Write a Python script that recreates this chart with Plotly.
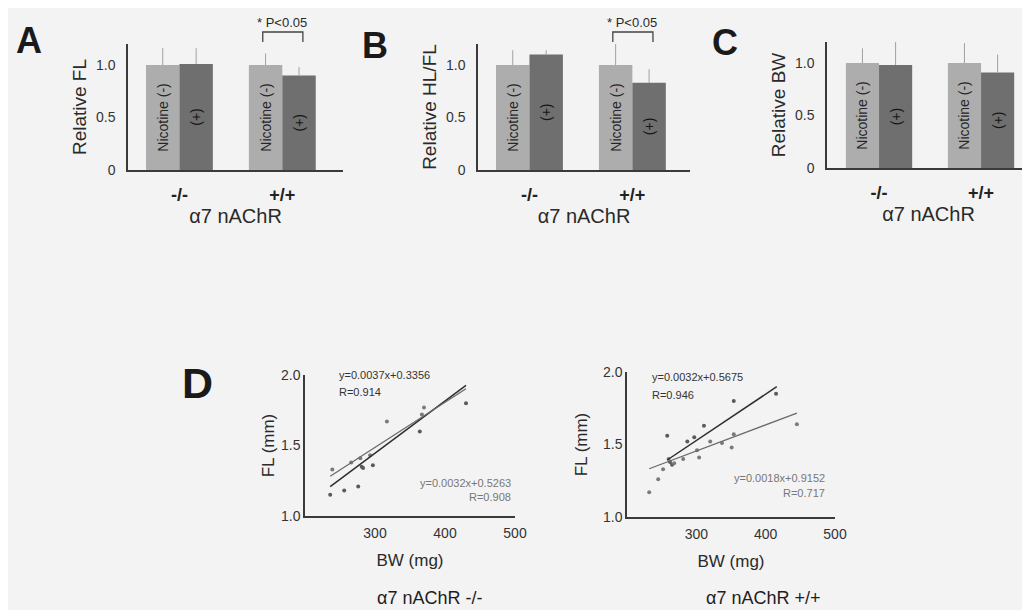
import plotly.graph_objects as go

# ---------------- data ----------------
genotypes = ["-/-", "+/+"]
nic_neg_label = "Nicotine (-)"
nic_pos_label = "(+)"

fl_neg = [1.00, 1.00]
fl_pos = [1.01, 0.90]
fl_neg_err = [0.16, 0.11]
fl_pos_err = [0.15, 0.08]

hlfl_neg = [1.00, 1.00]
hlfl_pos = [1.10, 0.83]
hlfl_neg_err = [0.14, 0.22]
hlfl_pos_err = [0.04, 0.13]

bw_neg = [1.00, 1.00]
bw_pos = [0.98, 0.91]
bw_neg_err = [0.14, 0.19]
bw_pos_err = [0.22, 0.17]

# scatter, alpha7 -/-
ko_a_bw = [236, 256, 276, 283, 297, 364, 430, 281]
ko_a_fl = [1.15, 1.18, 1.21, 1.34, 1.36, 1.60, 1.80, 1.35]
ko_b_bw = [239, 266, 279, 293, 317, 367, 370]
ko_b_fl = [1.33, 1.38, 1.41, 1.43, 1.67, 1.72, 1.77]
ko_fit_a = (0.0037, 0.3356, 0.914)
ko_fit_b = (0.0032, 0.5263, 0.908)
ko_fit_x = [236, 430]

# scatter, alpha7 +/+
wt_a_bw = [258, 262, 265, 287, 297, 311, 354, 415]
wt_a_fl = [1.56, 1.38, 1.36, 1.52, 1.55, 1.63, 1.80, 1.85]
wt_b_bw = [232, 245, 252, 260, 268, 281, 301, 304, 320, 337, 351, 354, 445]
wt_b_fl = [1.17, 1.26, 1.33, 1.40, 1.37, 1.40, 1.46, 1.41, 1.52, 1.51, 1.48, 1.57, 1.64]
wt_fit_a = (0.0032, 0.5675, 0.946)
wt_fit_b = (0.0018, 0.9152, 0.717)
wt_fit_a_x = [258, 416]
wt_fit_b_x = [232, 445]

y_ticks_bar = [0, 0.5, 1.0]
y_ticktext_bar = ["0", "0.5", "1.0"]
x_ticks_sc = [300, 400, 500]
y_ticks_sc = [1.0, 1.5, 2.0]

# ---------------- style ----------------
FONT = "Liberation Sans, Arial, sans-serif"
BG = "#f3f3f3"
LIGHT = "#adadad"
DARK = "#6f6f6f"
AX = "#3a3a3a"

fig = go.Figure()

bar_panels = [
    ("x", "y", fl_neg, fl_pos, fl_neg_err, fl_pos_err),
    ("x2", "y2", hlfl_neg, hlfl_pos, hlfl_neg_err, hlfl_pos_err),
    ("x3", "y3", bw_neg, bw_pos, bw_neg_err, bw_pos_err),
]
for xa, ya, neg, pos, nerr, perr in bar_panels:
    fig.add_trace(go.Bar(
        x=genotypes, y=neg, xaxis=xa, yaxis=ya, marker_color=LIGHT,
        marker_line_width=0,
        text=[nic_neg_label] * len(neg), textposition="inside",
        textangle=-90, insidetextanchor="middle", constraintext="none",
        insidetextfont=dict(family=FONT, size=14, color="#262626"),
        error_y=dict(type="data", array=nerr, arrayminus=[0] * len(nerr),
                     symmetric=False, color="#a0a0a0", thickness=1, width=0),
        showlegend=False, hoverinfo="skip"))
    fig.add_trace(go.Bar(
        x=genotypes, y=pos, xaxis=xa, yaxis=ya, marker_color=DARK,
        marker_line_width=0,
        text=[nic_pos_label] * len(pos), textposition="inside",
        textangle=-90, insidetextanchor="middle", constraintext="none",
        insidetextfont=dict(family=FONT, size=14, color="#161616"),
        error_y=dict(type="data", array=perr, arrayminus=[0] * len(perr),
                     symmetric=False, color="#a0a0a0", thickness=1, width=0),
        showlegend=False, hoverinfo="skip"))

def add_scatter_panel(xa, ya, abw, afl, bbw, bfl, fa, fb, fxa, fxb):
    fig.add_trace(go.Scatter(x=abw, y=afl, xaxis=xa, yaxis=ya, mode="markers",
                             marker=dict(size=4, color="#5a5a5a"),
                             showlegend=False, hoverinfo="skip"))
    fig.add_trace(go.Scatter(x=bbw, y=bfl, xaxis=xa, yaxis=ya, mode="markers",
                             marker=dict(size=4, color="#7a7a7a"),
                             showlegend=False, hoverinfo="skip"))
    fig.add_trace(go.Scatter(x=fxa, y=[fa[0] * v + fa[1] for v in fxa],
                             xaxis=xa, yaxis=ya, mode="lines",
                             line=dict(color="#2e2e2e", width=1.5),
                             showlegend=False, hoverinfo="skip"))
    fig.add_trace(go.Scatter(x=fxb, y=[fb[0] * v + fb[1] for v in fxb],
                             xaxis=xa, yaxis=ya, mode="lines",
                             line=dict(color="#6a6a6a", width=1.3),
                             showlegend=False, hoverinfo="skip"))

add_scatter_panel("x4", "y4", ko_a_bw, ko_a_fl, ko_b_bw, ko_b_fl,
                  ko_fit_a, ko_fit_b, ko_fit_x, ko_fit_x)
add_scatter_panel("x5", "y5", wt_a_bw, wt_a_fl, wt_b_bw, wt_b_fl,
                  wt_fit_a, wt_fit_b, wt_fit_a_x, wt_fit_b_x)

# the page body adds an 8 px margin; the figure fills the rest of the window
OFF = 8
W, H = 1030 - OFF, 610 - OFF
def px(v):
    return (v - OFF) / W
def py(v):
    return 1 - (v - OFF) / H

def bar_xaxis(dom, rng, anchor):
    return dict(domain=dom, range=rng, anchor=anchor, showline=True,
                linecolor=AX, linewidth=1.5, showgrid=False, zeroline=False,
                ticks="", ticklabelstandoff=8,
                tickfont=dict(family=FONT, size=18, color="#222", weight="bold"),
                title=dict(text="α7 nAChR", standoff=3,
                           font=dict(family=FONT, size=20, color="#2a2a2a")),
                automargin=False, fixedrange=True)

def bar_yaxis(dom, title, anchor):
    return dict(domain=dom, range=[0, 1.2], anchor=anchor, showline=True,
                linecolor=AX, linewidth=1.5, showgrid=False, zeroline=False,
                ticks="", tickvals=y_ticks_bar, ticktext=y_ticktext_bar,
                ticklabelstandoff=8,
                tickfont=dict(family=FONT, size=14, color="#333"),
                title=dict(text=title, standoff=4,
                           font=dict(family=FONT, size=19, color="#2a2a2a")),
                automargin=False, fixedrange=True)

def sc_xaxis(dom, anchor):
    return dict(domain=dom, range=[200, 500], anchor=anchor, showline=True,
                linecolor=AX, linewidth=1.5, showgrid=False, zeroline=False,
                ticks="", tickvals=x_ticks_sc, ticklabelstandoff=3,
                tickfont=dict(family=FONT, size=14, color="#333"),
                title=dict(text="BW (mg)", standoff=15,
                           font=dict(family=FONT, size=17, color="#2a2a2a")),
                automargin=False, fixedrange=True)

def sc_yaxis(dom, anchor, standoff):
    return dict(domain=dom, range=[1.0, 2.0], anchor=anchor, showline=True,
                linecolor=AX, linewidth=1.5, showgrid=False, zeroline=False,
                ticks="", tickvals=y_ticks_sc, tickformat=".1f",
                ticklabelstandoff=0,
                tickfont=dict(family=FONT, size=14, color="#333"),
                title=dict(text="FL (mm)", standoff=standoff,
                           font=dict(family=FONT, size=17, color="#2a2a2a")),
                automargin=False, fixedrange=True)

fig.update_layout(
    width=W, height=H,
    margin=dict(l=0, r=0, t=0, b=0),
    paper_bgcolor=BG, plot_bgcolor=BG,
    barmode="group", bargap=0.35, bargroupgap=0,
    font=dict(family=FONT, color="#222"),
    xaxis=bar_xaxis([px(128), px(343)], [-0.5, 1.59], "y"),
    yaxis=bar_yaxis([py(170), py(44)], "Relative FL", "x"),
    xaxis2=bar_xaxis([px(478), px(690)], [-0.5, 1.56], "y2"),
    yaxis2=bar_yaxis([py(170), py(44)], "Relative HL/FL", "x2"),
    xaxis3=bar_xaxis([px(827), 1.0], [-0.51, 1.48], "y3"),
    yaxis3=bar_yaxis([py(168), py(42)], "Relative BW", "x3"),
    xaxis4=sc_xaxis([px(305), px(515)], "y4"),
    yaxis4=sc_yaxis([py(516), py(375)], "x4", 2),
    xaxis5=sc_xaxis([px(627), px(835)], "y5"),
    yaxis5=sc_yaxis([py(517), py(372)], "x5", 11),
)

ann = []
# panel letters
for letter, x, y, s in [("A", 29, 41, 36), ("B", 375, 45, 36),
                        ("C", 725, 42, 36), ("D", 197, 383, 43)]:
    ann.append(dict(text=letter, x=px(x), y=py(y), xref="paper", yref="paper",
                    showarrow=False, xanchor="center", yanchor="middle",
                    font=dict(family=FONT, size=s, color="#1a1a1a", weight="bold")))

# significance brackets on +/+ group of A and B
for xa in ["x", "x2"]:
    fig.add_shape(type="path", xref=xa, yref="paper",
                  path=f"M 0.81,{py(42)} L 0.81,{py(32)} L 1.2,{py(32)} L 1.2,{py(42)}",
                  line=dict(color="#444", width=1.3))
    ann.append(dict(text="* P<0.05", x=1.0, y=py(22), xref=xa, yref="paper",
                    showarrow=False, xanchor="center", yanchor="middle",
                    font=dict(family=FONT, size=13, color="#2a2a2a")))

# regression equations
def eq_text(fit):
    return f"y={fit[0]:.4f}x+{fit[1]:.4f}", f"R={fit[2]:.3f}"

for xa, ya, fit, x, y1, y2, anchor, col in [
    ("x4", "y4", ko_fit_a, 246, 2.0, 1.88, "left", "#333"),
    ("x4", "y4", ko_fit_b, 497, 1.234, 1.135, "right", "#777"),
    ("x5", "y5", wt_fit_a, 233, 1.966, 1.84, "left", "#333"),
    ("x5", "y5", wt_fit_b, 489, 1.27, 1.166, "right", "#777"),
]:
    t1, t2 = eq_text(fit)
    for t, yy in [(t1, y1), (t2, y2)]:
        ann.append(dict(text=t, x=x, y=yy, xref=xa, yref=ya, showarrow=False,
                        xanchor=anchor, yanchor="middle",
                        font=dict(family=FONT, size=11, color=col)))

# captions under D panels
for txt, x in [("α7 nAChR -/-", 429), ("α7 nAChR +/+", 763)]:
    ann.append(dict(text=txt, x=px(x), y=py(598), xref="paper", yref="paper",
                    showarrow=False, xanchor="center", yanchor="middle",
                    font=dict(family=FONT, size=18, color="#1e1e1e")))

fig.update_layout(annotations=ann)
fig.write_html("out.html")
